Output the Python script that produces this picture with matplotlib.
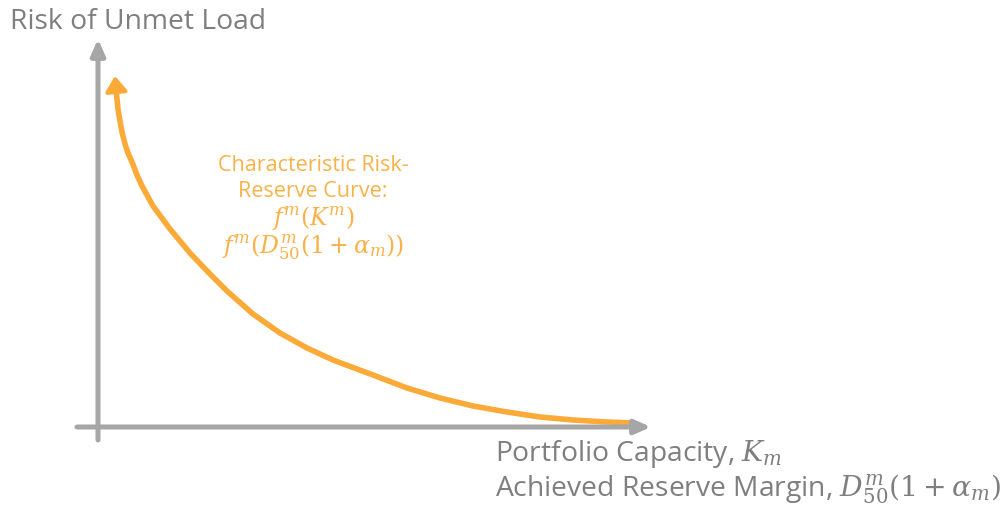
import matplotlib
matplotlib.use("Agg")
import matplotlib.pyplot as plt

plt.rcParams['font.family'] = ['Open Sans', 'DejaVu Sans']
plt.rcParams['mathtext.fontset'] = 'dejavuserif'

# Curve points (pixel-space coordinates, y downward)
curve_x = [116, 117, 118, 120, 122, 125, 128, 132, 137, 142, 153, 170, 190, 210, 227, 253,
           280, 307, 333, 357, 373, 407, 440, 473, 507, 540, 573, 607, 633]
curve_y = [90, 100, 110, 122, 133, 145, 154, 163, 176, 187, 207, 230, 254, 275, 292, 315,
           334, 349, 361, 370, 376, 389, 399, 407, 413, 418, 421, 423, 424]
arrow_tip = (115, 77)

# Axes geometry
yaxis_x = 98
yaxis_top, yaxis_bottom = 40, 441
xaxis_y = 428
xaxis_left, xaxis_right = 77, 651

GREY = '#A6A6A6'
TEXT_GREY = '#7F7F7F'
ORANGE = '#FBAA37'
ORANGE_TEXT = '#F9B24A'

fig = plt.figure(figsize=(10.07, 5.06), dpi=100)
ax = fig.add_axes([0, 0, 1, 1])
ax.set_xlim(0, 1007)
ax.set_ylim(506, 0)
ax.axis('off')

# axes arrows
ax.annotate('', xy=(yaxis_x, yaxis_top), xytext=(yaxis_x, yaxis_bottom),
            arrowprops=dict(arrowstyle='-|>,head_length=0.95,head_width=0.42', lw=3.6,
                            color=GREY, shrinkA=0, shrinkB=0))
ax.annotate('', xy=(xaxis_right, xaxis_y), xytext=(xaxis_left, xaxis_y),
            arrowprops=dict(arrowstyle='-|>,head_length=0.95,head_width=0.42', lw=3.6,
                            color=GREY, shrinkA=0, shrinkB=0))

# curve
ax.plot(curve_x, curve_y, color=ORANGE, lw=4, solid_capstyle='butt', solid_joinstyle='round')
ax.annotate('', xy=arrow_tip, xytext=(curve_x[1], curve_y[1]),
            arrowprops=dict(arrowstyle='-|>,head_length=0.9,head_width=0.65', lw=3,
                            color=ORANGE, shrinkA=0, shrinkB=0))

# labels
ax.text(10, 22, 'Risk of Unmet Load', fontsize=20.3, color=TEXT_GREY, ha='left', va='center')
ax.text(495, 454, r'Portfolio Capacity, $K_m$', fontsize=20.3, color=TEXT_GREY,
        ha='left', va='center')
ax.text(495, 489, r'Achieved Reserve Margin, $D_{50}^{m}(1+\alpha_m)$', fontsize=20.3,
        color=TEXT_GREY, ha='left', va='center')

ann_lines = ['Characteristic Risk-', 'Reserve Curve:', r'$f^{m}(K^{m})$',
             r'$f^{m}(D_{50}^{m}(1+\alpha_m))$']
ann_y = [165, 191, 218, 247]
ann_size = [15.5, 15.5, 17, 17]
for s, yy, fs in zip(ann_lines, ann_y, ann_size):
    ax.text(313, yy, s, fontsize=fs, color=ORANGE_TEXT, ha='center', va='center')

fig.savefig('out.png', dpi=100)
